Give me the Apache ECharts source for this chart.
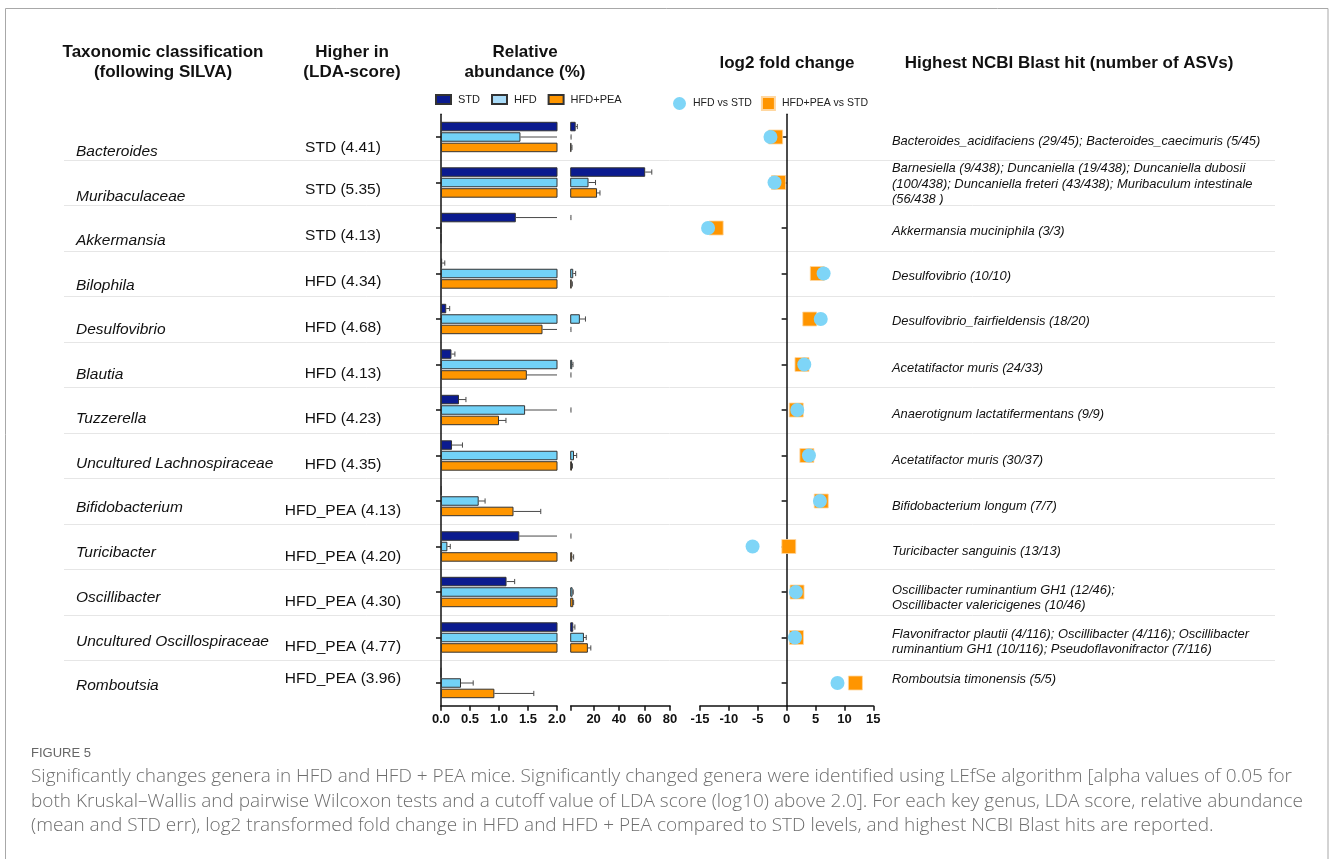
<!DOCTYPE html>
<html>
<head>
<meta charset="utf-8">
<script src="https://cdn.jsdelivr.net/npm/echarts@6/dist/echarts.min.js"></script>
<style>
  html, body { margin: 0; padding: 0; background: #ffffff; }
  #chart { width: 1330px; height: 859px; }
</style>
</head>
<body>
<div id="chart"></div>
<script>
// ---- data -------------------------------------------------------------
const genera = ['Bacteroides', 'Muribaculaceae', 'Akkermansia', 'Bilophila', 'Desulfovibrio',
  'Blautia', 'Tuzzerella', 'Uncultured Lachnospiraceae', 'Bifidobacterium', 'Turicibacter',
  'Oscillibacter', 'Uncultured Oscillospiraceae', 'Romboutsia'];

const higherIn = ['STD (4.41)', 'STD (5.35)', 'STD (4.13)', 'HFD (4.34)', 'HFD (4.68)',
  'HFD (4.13)', 'HFD (4.23)', 'HFD (4.35)', 'HFD_PEA (4.13)', 'HFD_PEA (4.20)',
  'HFD_PEA (4.30)', 'HFD_PEA (4.77)', 'HFD_PEA (3.96)'];

// relative abundance (%), mean and standard error per group
const stdMean = [5.9, 60.5, 1.29, 0.02, 0.09, 0.18, 0.31, 0.19, 0.01, 1.35, 1.13, 4.0, 0];
const stdErr  = [1.3, 5.2, 0.9, 0.045, 0.06, 0.06, 0.12, 0.18, 0, 0.85, 0.14, 1.3, 0];
const hfdMean = [1.37, 16.0, 0, 4.0, 9.2, 3.2, 1.45, 4.6, 0.65, 0.11, 3.5, 12.4, 0.345];
const hfdErr  = [0.93, 5.5, 0, 1.9, 4.4, 0.6, 0.77, 2.1, 0.11, 0.05, 0.5, 1.8, 0.21];
const peaMean = [2.6, 22.7, 0, 2.8, 1.75, 1.48, 1.0, 3.0, 1.25, 3.2, 4.0, 15.5, 0.92];
const peaErr  = [0.4, 2.3, 0, 0.5, 0.45, 0.72, 0.12, 0.4, 0.47, 1.1, 0.3, 2.3, 0.68];

// log2 fold change relative to STD
const fcHfd = [-2.8, -2.1, -13.6, 6.4, 5.9, 3.05, 1.84, 3.86, 5.76, -5.9, 1.6, 1.44, 8.8];
const fcPea = [-1.9, -1.4, -12.2, 5.3, 4.0, 2.65, 1.66, 3.5, 5.99, 0.37, 1.8, 1.7, 11.9];

const blastHits = [
  'Bacteroides_acidifaciens (29/45); Bacteroides_caecimuris (5/45)',
  'Barnesiella (9/438); Duncaniella (19/438); Duncaniella dubosii\n(100/438); Duncaniella freteri (43/438); Muribaculum intestinale\n(56/438 )',
  'Akkermansia muciniphila (3/3)',
  'Desulfovibrio (10/10)',
  'Desulfovibrio_fairfieldensis (18/20)',
  'Acetatifactor muris (24/33)',
  'Anaerotignum lactatifermentans (9/9)',
  'Acetatifactor muris (30/37)',
  'Bifidobacterium longum (7/7)',
  'Turicibacter sanguinis (13/13)',
  'Oscillibacter ruminantium GH1 (12/46);\nOscillibacter valericigenes (10/46)',
  'Flavonifractor plautii (4/116); Oscillibacter (4/116); Oscillibacter\nruminantium GH1 (10/116); Pseudoflavonifractor (7/116)',
  'Romboutsia timonensis (5/5)'
];

const highTicks = [2, 20, 40, 60, 80];
const highLabels = [20, 40, 60, 80];

const groupNames = ['STD', 'HFD', 'HFD+PEA'];
const fcNames = ['HFD vs STD', 'HFD+PEA vs STD'];

const captionTitle = 'FIGURE 5';
const captionLines = [
  'Significantly changes genera in HFD and HFD + PEA mice. Significantly changed genera were identified using LEfSe algorithm [alpha values of 0.05 for',
  'both Kruskal\u2013Wallis and pairwise Wilcoxon tests and a cutoff value of LDA score (log10) above 2.0]. For each key genus, LDA score, relative abundance',
  '(mean and STD err), log2 transformed fold change in HFD and HFD + PEA compared to STD levels, and highest NCBI Blast hits are reported.'
];

// ---- layout & style ---------------------------------------------------
const COLORS = { std: '#0b1b8f', hfd: '#72d2f7', hfdKey: '#a9dbf8', pea: '#ff9600', dot: '#7ed5f7', sq: '#ff9500' };
const SANS = '"Liberation Sans", Arial, sans-serif';
const NARROW = '"Liberation Sans Narrow", "Liberation Sans", Arial, sans-serif';
const PLOT_TOP = 114.25, PLOT_H = 591.5;
const BAR_W = 9.5, BAR_GAP = 0.1;

const genusY = [152, 196.5, 241, 285.5, 330, 374.5, 419, 463.5, 508, 552.5, 597.5, 641.5, 686];
const ldaY   = [148, 190, 236, 282, 328, 374, 419, 465, 511, 557, 602, 647, 679];
const blastY = [141, 184, 231, 276, 321, 368, 414, 460, 506, 551, 598, 642, 679];

const means = [stdMean, hfdMean, peaMean];
const errs = [stdErr, hfdErr, peaErr];
const barColors = [COLORS.std, COLORS.hfd, COLORS.pea];

// whisker from bar end to mean + err, trimmed to the current axis segment
function errorBar(params, api) {
  const mean = api.value(0), cat = api.value(1), err = api.value(2), g = api.value(3);
  if (!(err > 0)) return;
  const cs = params.coordSys;
  const left = cs.x, right = cs.x + cs.width;
  const yc = api.coord([0, cat])[1] + (g - 1) * BAR_W * (1 + BAR_GAP);
  const x1 = api.coord([mean, cat])[0];
  const x2 = api.coord([mean + err, cat])[0];
  if (x2 < left || x1 >= right) return;
  const a = Math.max(x1, left), b = Math.min(x2, right);
  const st = { stroke: '#4a4a4a', lineWidth: 1 };
  const children = [{ type: 'line', shape: { x1: a, y1: yc, x2: b, y2: yc }, style: st }];
  if (x2 <= right) {
    children.push({ type: 'line', shape: { x1: x2, y1: yc - 2.6, x2: x2, y2: yc + 2.6 }, style: st });
  }
  return { type: 'group', children: children };
}

function errorData() {
  const out = [];
  for (let g = 0; g < 3; g++) {
    for (let i = 0; i < genera.length; i++) {
      out.push([means[g][i], i, errs[g][i], g]);
    }
  }
  return out;
}

const axisLineStyle = { color: '#111', width: 1.5 };
const tickLabel = { color: '#111', fontFamily: NARROW, fontWeight: 'bold', fontSize: 13, margin: 7 };

function catAxis(gridIndex, extra) {
  return Object.assign({
    type: 'category', gridIndex: gridIndex, data: genera, inverse: true,
    axisLabel: { show: false }, splitLine: { show: false }
  }, extra);
}

const option = {
  animation: false,
  backgroundColor: '#ffffff',
  grid: [
    { left: 441, top: PLOT_TOP, width: 116, height: PLOT_H },
    { left: 570.7, top: PLOT_TOP, width: 99.3, height: PLOT_H },
    { left: 700, top: PLOT_TOP, width: 173.3, height: PLOT_H },
    { left: 64, top: PLOT_TOP, width: 1211, height: PLOT_H }
  ],
  xAxis: [
    {
      type: 'value', gridIndex: 0, min: 0, max: 2, interval: 0.5,
      axisLine: { show: true, lineStyle: axisLineStyle },
      axisTick: { show: true, length: 5, lineStyle: axisLineStyle },
      axisLabel: Object.assign({ formatter: v => v.toFixed(1) }, tickLabel),
      splitLine: { show: false }
    },
    {
      type: 'value', gridIndex: 1, min: 2, max: 80,
      axisLine: { show: true, lineStyle: axisLineStyle },
      axisTick: { show: true, length: 5, lineStyle: axisLineStyle, customValues: highTicks },
      axisLabel: Object.assign({ customValues: highLabels }, tickLabel),
      splitLine: { show: false }
    },
    {
      type: 'value', gridIndex: 2, min: -15, max: 15, interval: 5,
      axisLine: { show: true, onZero: false, lineStyle: axisLineStyle },
      axisTick: { show: true, length: 5, lineStyle: axisLineStyle },
      axisLabel: tickLabel,
      splitLine: { show: false }
    },
    { type: 'value', gridIndex: 3, show: false, min: 0, max: 1 }
  ],
  yAxis: [
    catAxis(0, {
      axisLine: { show: true, lineStyle: axisLineStyle },
      axisTick: { show: true, alignWithLabel: true, length: 5, lineStyle: axisLineStyle }
    }),
    catAxis(1, { axisLine: { show: false }, axisTick: { show: false } }),
    catAxis(2, {
      axisLine: { show: true, onZero: true, lineStyle: axisLineStyle },
      axisTick: { show: true, alignWithLabel: true, length: 5, lineStyle: axisLineStyle }
    }),
    catAxis(3, {
      axisLine: { show: false }, axisTick: { show: false },
      splitLine: { show: true, showMinLine: false, showMaxLine: false, lineStyle: { color: '#e6e6e6', width: 1 } }
    })
  ],
  legend: [
    {
      data: [
        { name: groupNames[0] },
        { name: groupNames[1], itemStyle: { color: COLORS.hfdKey } },
        { name: groupNames[2] }
      ],
      left: 430, top: 89, icon: 'rect', itemWidth: 15, itemHeight: 9, itemGap: 11,
      textStyle: { fontFamily: SANS, fontSize: 11, color: '#222', padding: [0, 0, 0, 2] },
      selectedMode: false
    },
    {
      data: fcNames, left: 668, top: 91, itemWidth: 13, itemHeight: 13, itemGap: 9,
      textStyle: { fontFamily: SANS, fontSize: 10.5, color: '#222', padding: [0, 0, 0, 2] },
      selectedMode: false
    }
  ],
  series: [],
  graphic: []
};

// bars on the low (0–2) and high (2–80) segments of the broken axis
groupNames.forEach((name, g) => {
  const style = { color: barColors[g], borderColor: '#333', borderWidth: 1 };
  option.series.push({
    type: 'bar', name: name, xAxisIndex: 0, yAxisIndex: 0,
    data: means[g], barWidth: BAR_W, barGap: '10%', itemStyle: style, clip: true, z: 2
  });
  option.series.push({
    type: 'bar', name: name, xAxisIndex: 1, yAxisIndex: 1,
    data: means[g].map(v => (v > 2 ? v : null)), barWidth: BAR_W, barGap: '10%',
    itemStyle: style, clip: true, z: 2
  });
});

[0, 1].forEach(seg => {
  option.series.push({
    type: 'custom', name: 'err' + seg, xAxisIndex: seg, yAxisIndex: seg,
    data: errorData(), renderItem: errorBar, z: 3, silent: true
  });
});

// log2 fold change markers
option.series.push({
  type: 'scatter', name: fcNames[1], xAxisIndex: 2, yAxisIndex: 2,
  symbol: 'rect', symbolSize: 14,
  itemStyle: { color: COLORS.sq, borderColor: '#ffd7a0', borderWidth: 0.8, opacity: 1 },
  data: fcPea.map((v, i) => [v, i]), z: 3
});
option.series.push({
  type: 'scatter', name: fcNames[0], xAxisIndex: 2, yAxisIndex: 2,
  symbol: 'circle', symbolSize: 14,
  itemStyle: { color: COLORS.dot, opacity: 1 },
  data: fcHfd.map((v, i) => [v, i]), z: 4
});

// ---- text columns, headers, caption ----------------------------------
const G = option.graphic;
function txt(text, x, y, font, fill, align, lineHeight) {
  G.push({
    type: 'text', x: x, y: y, silent: true,
    style: { text: text, font: font, fill: fill || '#111', align: align || 'left',
      verticalAlign: 'middle', lineHeight: lineHeight || 16 }
  });
}

G.push({
  type: 'rect', silent: true, z: -10,
  shape: { x: 5.5, y: 8.5, width: 1322.5, height: 900 },
  style: { fill: 'none', stroke: '#a8a8a8', lineWidth: 1 }
});

const HEAD = 'bold 17px ' + SANS;
txt('Taxonomic classification', 163, 52, HEAD, '#111', 'center');
txt('(following SILVA)', 163, 72, HEAD, '#111', 'center');
txt('Higher in', 352, 52, HEAD, '#111', 'center');
txt('(LDA-score)', 352, 72, HEAD, '#111', 'center');
txt('Relative', 525, 52, HEAD, '#111', 'center');
txt('abundance (%)', 525, 72, HEAD, '#111', 'center');
txt('log2 fold change', 787, 63, HEAD, '#111', 'center');
txt('Highest NCBI Blast hit (number of ASVs)', 1069, 63, HEAD, '#111', 'center');

genera.forEach((name, i) => {
  txt(name, 76, genusY[i], 'italic 15.5px ' + SANS, '#111', 'left');
  txt(higherIn[i], 343, ldaY[i], '15.5px ' + SANS, '#111', 'center');
  txt(blastHits[i], 892, blastY[i], 'italic 12.9px ' + SANS, '#111', 'left', 15.5);
});

txt(captionTitle, 31, 753, '13px ' + NARROW, '#666666', 'left');
captionLines.forEach((line, k) => {
  txt(line, 31, 777 + 24.2 * k, '300 19px "Open Sans", sans-serif', '#6e6e6e', 'left');
});

const chart = echarts.init(document.getElementById('chart'), null, { renderer: 'canvas' });
chart.setOption(option);
</script>
</body>
</html>
